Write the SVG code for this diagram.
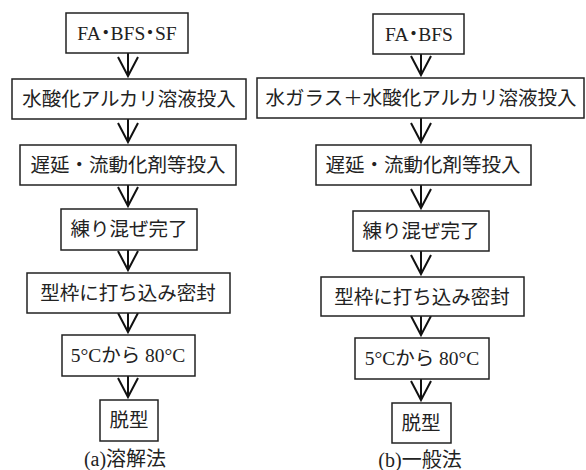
<svg xmlns="http://www.w3.org/2000/svg" width="586" height="470" viewBox="0 0 586 470">
<style>
.b{fill:#fff;stroke:#222;stroke-width:1.5}
.t{font-family:"Liberation Serif","Noto Sans CJK JP",serif;font-size:19.5px;fill:#222;text-anchor:middle}
.h{font-feature-settings:"halt"}
.c{font-family:"Liberation Serif","Noto Sans CJK JP",serif;font-size:20px;fill:#222;text-anchor:middle}
.a{fill:none;stroke:#111;stroke-width:2}
</style>
<rect width="586" height="470" fill="#fff"/>
<g id="connectors">
<path class="a" d="M128,53V76M118,57L128,76L138,57"/>
<path class="a" d="M128,119V142M118,123L128,142L138,123"/>
<path class="a" d="M128,185V206M118,187L128,206L138,187"/>
<path class="a" d="M128,250V270M118,251L128,270L138,251"/>
<path class="a" d="M128,313V332M118,313L128,332L138,313"/>
<path class="a" d="M128,376V397M118,378L128,397L138,378"/>
<path class="a" d="M421,54V75M411,56L421,75L431,56"/>
<path class="a" d="M421,118V142M411,123L421,142L431,123"/>
<path class="a" d="M421,185V208M411,189L421,208L431,189"/>
<path class="a" d="M421,251V274M411,255L421,274L431,255"/>
<path class="a" d="M421,316V335M411,316L421,335L431,316"/>
<path class="a" d="M421,379V400M411,381L421,400L431,381"/>
</g>
<g id="a1"><rect class="b" x="66" y="13" width="122" height="40"/><text class="t h" x="127" y="40">FA・BFS・SF</text></g>
<g id="a2"><rect class="b" x="12" y="79" width="234" height="40"/><text class="t" x="129" y="106">水酸化アルカリ溶液投入</text></g>
<g id="a3"><rect class="b" x="20" y="145" width="216" height="40"/><text class="t" x="128" y="172">遅延・流動化剤等投入</text></g>
<g id="a4"><rect class="b" x="61" y="209" width="136" height="41"/><text class="t" x="129" y="236">練り混ぜ完了</text></g>
<g id="a5"><rect class="b" x="27" y="273" width="203" height="40"/><text class="t" x="128" y="300">型枠に打ち込み密封</text></g>
<g id="a6"><rect class="b" x="62" y="335" width="133" height="41"/><text class="t" x="128" y="362">5°Cから 80°C</text></g>
<g id="a7"><rect class="b" x="100" y="400" width="58" height="41"/><text class="t" x="129" y="427">脱型</text></g>
<g id="acap"><text class="c" x="125" y="466">(a)溶解法</text></g>
<g id="b1"><rect class="b" x="373" y="14" width="91" height="40"/><text class="t h" x="419" y="41">FA・BFS</text></g>
<g id="b2"><rect class="b" x="257" y="78" width="327" height="40"/><text class="t" x="421" y="105">水ガラス＋水酸化アルカリ溶液投入</text></g>
<g id="b3"><rect class="b" x="316" y="145" width="215" height="40"/><text class="t" x="423" y="172">遅延・流動化剤等投入</text></g>
<g id="b4"><rect class="b" x="353" y="211" width="136" height="40"/><text class="t" x="421" y="238">練り混ぜ完了</text></g>
<g id="b5"><rect class="b" x="321" y="277" width="203" height="39"/><text class="t" x="422" y="304">型枠に打ち込み密封</text></g>
<g id="b6"><rect class="b" x="355" y="338" width="134" height="41"/><text class="t" x="422" y="365">5°Cから 80°C</text></g>
<g id="b7"><rect class="b" x="392" y="403" width="59" height="40"/><text class="t" x="421" y="430">脱型</text></g>
<g id="bcap"><text class="c" x="420" y="467">(b)一般法</text></g>
</svg>
